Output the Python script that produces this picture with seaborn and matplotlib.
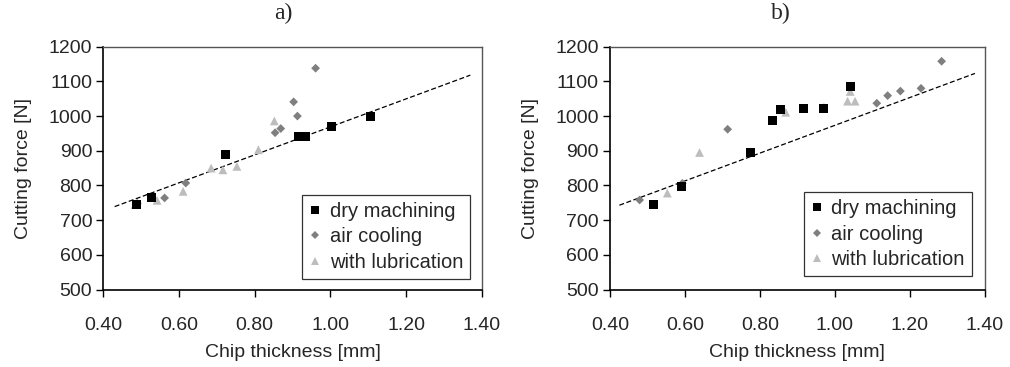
import matplotlib
matplotlib.use("Agg")
import matplotlib.pyplot as plt
import seaborn as sns
import pandas as pd
from matplotlib.lines import Line2D

# ---- data (panel a) ----
a_dry_x = [0.488, 0.528, 0.722, 0.915, 0.935, 1.002, 1.106]
a_dry_y = [745, 764, 890, 941, 941, 969, 1000]
a_air_x = [0.490, 0.562, 0.618, 0.854, 0.869, 0.903, 0.913, 0.961]
a_air_y = [748, 764, 807, 952, 964, 1041, 1000, 1138]
a_lub_x = [0.484, 0.542, 0.611, 0.685, 0.716, 0.753, 0.810, 0.852]
a_lub_y = [745, 757, 783, 850, 845, 855, 903, 986]
a_trend_x = [0.43, 1.37]
a_trend_y = [739, 1118]

# ---- data (panel b) ----
b_dry_x = [0.516, 0.591, 0.774, 0.834, 0.855, 0.916, 0.971, 1.041]
b_dry_y = [746, 797, 896, 987, 1020, 1023, 1023, 1086]
b_air_x = [0.479, 0.593, 0.714, 1.112, 1.141, 1.175, 1.230, 1.285]
b_air_y = [758, 806, 962, 1037, 1059, 1072, 1080, 1158]
b_lub_x = [0.553, 0.639, 0.869, 0.971, 1.034, 1.054, 1.041]
b_lub_y = [778, 895, 1011, 1026, 1043, 1043, 1071]
b_trend_x = [0.425, 1.374]
b_trend_y = [743, 1123]

series_names = ["dry machining", "air cooling", "with lubrication"]
panel_titles = ["a)", "b)"]
x_ticks = [0.40, 0.60, 0.80, 1.00, 1.20, 1.40]
y_ticks = [500, 600, 700, 800, 900, 1000, 1100, 1200]

sns.set_style("white")
plt.rcParams["font.family"] = ["Liberation Sans", "DejaVu Sans"]

W, H = 1010, 367
fig = plt.figure(figsize=(W / 100, H / 100), dpi=100)

styles = [
    dict(marker="s", color="#000000", s=42),
    dict(marker="D", color="#7f7f7f", s=20),
    dict(marker="^", color="#bdbdbd", s=40),
]

panels = [
    ((103.3, 481.7), [(a_dry_x, a_dry_y), (a_air_x, a_air_y), (a_lub_x, a_lub_y)],
     (a_trend_x, a_trend_y), (0.969, 0.043), 283),
    ((610.0, 984.7), [(b_dry_x, b_dry_y), (b_air_x, b_air_y), (b_lub_x, b_lub_y)],
     (b_trend_x, b_trend_y), (0.965, 0.054), 781),
]

top_px, bot_px = 46.7, 289.5

for i, ((x0, x1), series, trend, leg_anchor, title_x) in enumerate(panels):
    ax = fig.add_axes([x0 / W, (H - bot_px) / H, (x1 - x0) / W, (bot_px - top_px) / H])
    tdf = pd.DataFrame({"x": trend[0], "y": trend[1]})
    sns.lineplot(data=tdf, x="x", y="y", ax=ax, color="black", lw=0.9,
                 linestyle=(0, (4, 2)), zorder=1)
    # draw order: lubrication, air, dry on top
    for (sx, sy), name, st in list(zip(series, series_names, styles))[::-1]:
        df = pd.DataFrame({"x": sx, "y": sy})
        sns.scatterplot(data=df, x="x", y="y", ax=ax, marker=st["marker"],
                        color=st["color"], s=st["s"], edgecolor="none",
                        linewidth=0, zorder=3)
    ax.set_xlim(0.40, 1.40)
    ax.set_ylim(500, 1200)
    ax.set_xticks(x_ticks)
    ax.set_xticklabels([f"{v:.2f}" for v in x_ticks])
    ax.set_yticks(y_ticks)
    ax.tick_params(axis="both", direction="out", length=5, width=1,
                   labelsize=14, color="black", bottom=True, left=True)
    ax.tick_params(axis="x", pad=15)
    ax.tick_params(axis="y", pad=3)
    ax.set_xlabel("Chip thickness [mm]", fontsize=14, labelpad=7)
    ax.set_ylabel("Cutting force [N]", fontsize=14, labelpad=12)
    for side in ["left", "bottom"]:
        ax.spines[side].set_color("black")
        ax.spines[side].set_linewidth(1.2)
    for side in ["top", "right"]:
        ax.spines[side].set_color("#555555")
        ax.spines[side].set_linewidth(1.0)
    handles = [
        Line2D([], [], marker=st["marker"], color=st["color"], linestyle="none",
               markersize=ms, markeredgewidth=0)
        for st, ms in zip(styles, [5.5, 4.5, 5.5])
    ]
    leg = ax.legend(handles, series_names, loc="lower right",
                    bbox_to_anchor=leg_anchor, frameon=True, fancybox=False,
                    fontsize=14.5, handlelength=0.6, handletextpad=0.4,
                    labelspacing=0.33, borderpad=0.35, borderaxespad=0)
    leg.get_frame().set_edgecolor("black")
    leg.get_frame().set_linewidth(0.9)
    fig.text(title_x / W, 1 - 13 / H, panel_titles[i], ha="center", va="center",
             fontsize=17, family=["Liberation Serif", "DejaVu Serif"])

fig.savefig("out.png", dpi=100)
